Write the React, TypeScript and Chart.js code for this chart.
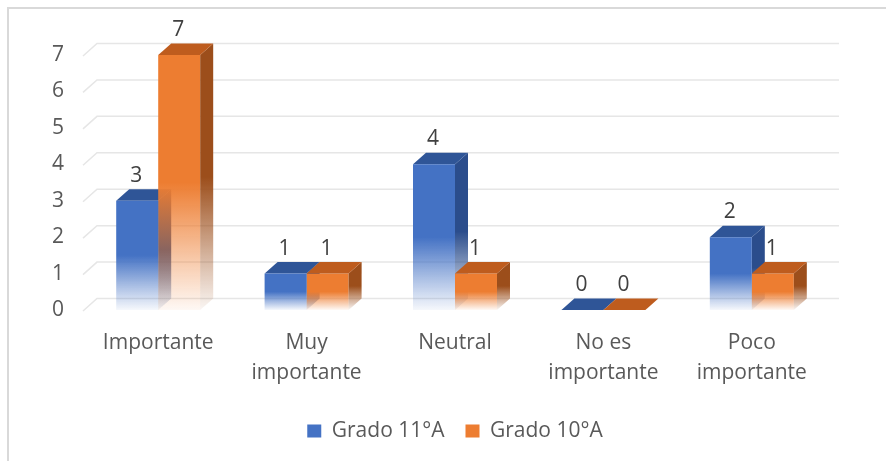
import React, { useEffect, useRef } from "react";
import { Chart, registerables } from "chart.js";

Chart.register(...registerables);

// ---- data ----
const categories: (string | string[])[] = [
  "Importante",
  ["Muy", "importante"],
  "Neutral",
  ["No es", "importante"],
  ["Poco", "importante"],
];
const grado11 = [3, 1, 4, 0, 2];
const grado10 = [7, 1, 1, 0, 1];
const seriesNames = ["Grado 11°A", "Grado 10°A"];
const yMin = 0;
const yMax = 7;
const yStep = 1;

// ---- styling ----
const FONT = "'Open Sans', sans-serif";
const TEXT = "#595959";
const LABEL = "#404040";
const DX = 13;
const DY = 11.5;

type RGB = [number, number, number];
const BLUE: RGB = [68, 114, 196];
const ORANGE: RGB = [237, 125, 49];
const faces = [
  { front: BLUE, top: "#2F5597", side: [43, 77, 140] as RGB },
  { front: ORANGE, top: "#BE5C1E", side: [156, 78, 27] as RGB },
];

const rgba = (c: RGB, a: number) => `rgba(${c[0]},${c[1]},${c[2]},${a})`;

function fadeGradient(ctx: CanvasRenderingContext2D, c: RGB, top: number, base: number) {
  const g = ctx.createLinearGradient(0, top, 0, base);
  g.addColorStop(0, rgba(c, 1));
  g.addColorStop(0.5, rgba(c, 1));
  g.addColorStop(0.8, rgba(c, 0.42));
  g.addColorStop(1, rgba(c, 0.05));
  return g;
}

const frontFill = (c: RGB) => (context: any) => {
  if (context.type !== "data") return rgba(c, 1);
  const chart = context.chart;
  if (!chart.chartArea || !chart.scales.y) return rgba(c, 1);
  const yS = chart.scales.y;
  const top = yS.getPixelForValue(context.raw);
  const base = yS.getPixelForValue(0);
  if (base - top < 1) return rgba(c, 1);
  return fadeGradient(chart.ctx, c, top, base);
};

function drawFaces(chart: any, di: number) {
  const ctx = chart.ctx;
  const f = faces[di];
  const meta = chart.getDatasetMeta(di);
  const base = chart.scales.y.getPixelForValue(0);
  ctx.save();
  meta.data.forEach((bar: any) => {
    const { x, y, width } = bar.getProps(["x", "y", "width"], true);
    const l = x - width / 2;
    const r = x + width / 2;
    if (base - y > 0.5) {
      ctx.fillStyle = fadeGradient(ctx, f.side, y - DY, base);
      ctx.beginPath();
      ctx.moveTo(r, y);
      ctx.lineTo(r + DX, y - DY);
      ctx.lineTo(r + DX, base - DY);
      ctx.lineTo(r, base);
      ctx.closePath();
      ctx.fill();
    }
    ctx.fillStyle = f.top;
    ctx.beginPath();
    ctx.moveTo(l, y);
    ctx.lineTo(l + DX, y - DY);
    ctx.lineTo(r + DX, y - DY);
    ctx.lineTo(r, y);
    ctx.closePath();
    ctx.fill();
  });
  ctx.restore();
}

const borderPlugin = {
  id: "outerBorder",
  beforeDraw(chart: any) {
    const ctx = chart.ctx;
    ctx.save();
    ctx.strokeStyle = "#D9D9D9";
    ctx.lineWidth = 2;
    ctx.strokeRect(8, 8, 2000, 2000);
    ctx.restore();
  },
};

const bar3dPlugin = {
  id: "bar3d",
  beforeDatasetsDraw(chart: any) {
    const ctx = chart.ctx;
    const area = chart.chartArea;
    const yS = chart.scales.y;
    ctx.save();
    ctx.strokeStyle = "#E6E6E6";
    ctx.lineWidth = 1.5;
    for (let v = yMin; v <= yMax; v += yStep) {
      const yp = yS.getPixelForValue(v);
      ctx.beginPath();
      ctx.moveTo(area.left - 1, yp + 1);
      ctx.lineTo(area.left + DX, yp - DY);
      ctx.lineTo(area.right + DX, yp - DY);
      ctx.stroke();
    }
    ctx.restore();
    // faces of the first series sit behind the second series' front faces
    drawFaces(chart, 0);
  },
  afterDatasetDraw(chart: any, args: any) {
    if (args.index === 1) drawFaces(chart, 1);
  },
  afterDatasetsDraw(chart: any) {
    const ctx = chart.ctx;
    ctx.save();
    ctx.fillStyle = LABEL;
    ctx.font = `21px ${FONT}`;
    ctx.textAlign = "center";
    ctx.textBaseline = "middle";
    chart.data.datasets.forEach((ds: any, di: number) => {
      const meta = chart.getDatasetMeta(di);
      meta.data.forEach((bar: any, i: number) => {
        const { x, y } = bar.getProps(["x", "y"], true);
        ctx.fillText(String(ds.data[i]), x - 1, y - 25);
      });
    });
    ctx.restore();
  },
};

export default function App() {
  const ref = useRef<HTMLCanvasElement>(null);

  useEffect(() => {
    if (!ref.current) return;
    const chart = new Chart(ref.current, {
      type: "bar",
      data: {
        labels: categories as any,
        datasets: [
          {
            label: seriesNames[0],
            data: grado11,
            backgroundColor: frontFill(BLUE) as any,
            borderWidth: 0,
            clip: false as any,
          },
          {
            label: seriesNames[1],
            data: grado10,
            backgroundColor: frontFill(ORANGE) as any,
            borderWidth: 0,
            clip: false as any,
          },
        ],
      },
      options: {
        animation: false,
        responsive: true,
        maintainAspectRatio: false,
        layout: { padding: { top: 55, left: 20, right: 60, bottom: 9.5 } },
        datasets: {
          bar: { categoryPercentage: 0.566, barPercentage: 1 },
        },
        scales: {
          x: {
            grid: { display: false },
            border: { display: false },
            ticks: {
              color: TEXT,
              font: { family: FONT, size: 21, lineHeight: 1.43 },
              padding: 10,
              maxRotation: 0,
              autoSkip: false,
            },
            afterFit(scale: any) {
              scale.height = 89.5;
            },
          },
          y: {
            min: yMin,
            max: yMax,
            grid: { display: false },
            border: { display: false },
            ticks: {
              stepSize: yStep,
              color: TEXT,
              font: { family: FONT, size: 21 },
              padding: 12,
            },
            afterFit(scale: any) {
              scale.width = 64;
            },
          },
        },
        plugins: {
          legend: {
            position: "bottom",
            fullSize: false,
            labels: {
              color: TEXT,
              font: { family: FONT, size: 21 },
              boxWidth: 14,
              boxHeight: 13,
              padding: 21,
              generateLabels(chart: any) {
                return chart.data.datasets.map((ds: any, i: number) => ({
                  text: ds.label,
                  fillStyle: rgba(faces[i].front, 1),
                  strokeStyle: rgba(faces[i].front, 1),
                  lineWidth: 0,
                  fontColor: TEXT,
                  hidden: false,
                  datasetIndex: i,
                }));
              },
            },
          },
          tooltip: { enabled: false },
        },
      },
      plugins: [borderPlugin, bar3dPlugin],
    });
    return () => chart.destroy();
  }, []);

  return (
    <div style={{ position: "fixed", left: 0, top: 0, width: 886, height: 461, background: "#fff" }}>
      <canvas ref={ref} />
    </div>
  );
}
